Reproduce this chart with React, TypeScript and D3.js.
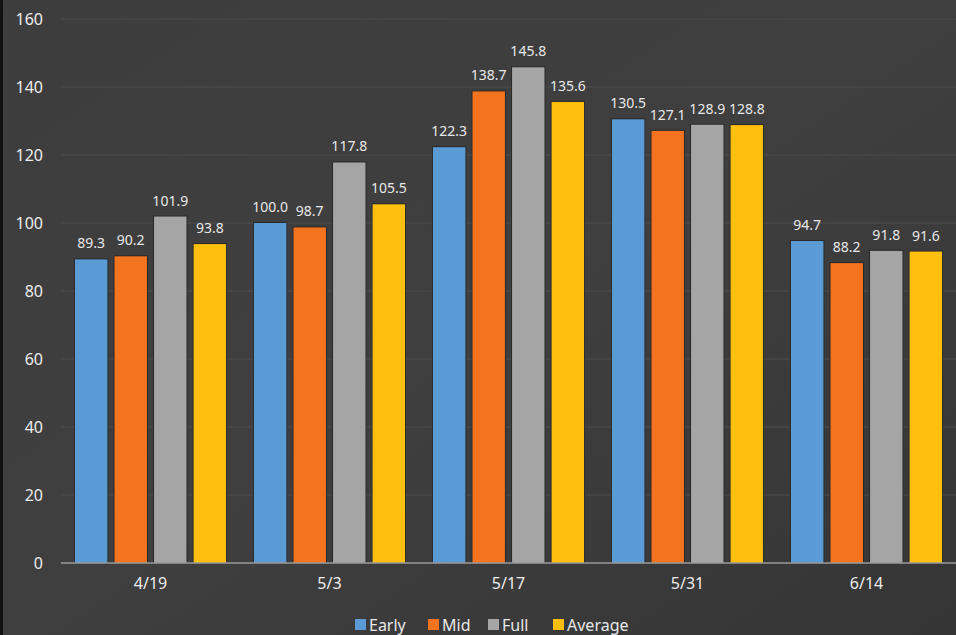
import React from "react";
import * as d3 from "d3";

const categories = ["4/19", "5/3", "5/17", "5/31", "6/14"];
const seriesNames = ["Early", "Mid", "Full", "Average"];
const early = [89.3, 100.0, 122.3, 130.5, 94.7];
const mid = [90.2, 98.7, 138.7, 127.1, 88.2];
const full = [101.9, 117.8, 145.8, 128.9, 91.8];
const average = [93.8, 105.5, 135.6, 128.8, 91.6];
const yTicks = [0, 20, 40, 60, 80, 100, 120, 140, 160];
const colors = ["#5b9bd5", "#f4731f", "#a5a5a5", "#ffbf0f"];

const W = 956;
const H = 635;
const FONT = "'Noto Sans', 'Open Sans', sans-serif";

export default function App() {
  const series = [early, mid, full, average];
  const y = d3.scaleLinear().domain([0, 160]).range([563, 19]);
  const x0 = d3
    .scaleBand<string>()
    .domain(categories)
    .range([61, 956])
    .paddingInner(0.134)
    .paddingOuter(0.067);
  const x1 = d3
    .scaleBand<string>()
    .domain(seriesNames)
    .range([0, x0.bandwidth()])
    .paddingInner(0.18)
    .paddingOuter(0.05);

  const legendX = [355, 428, 488, 553];

  return (
    <div style={{ position: "fixed", left: 0, top: 0, width: W, height: H }}>
      <svg width={W} height={H} style={{ display: "block" }}>
        <defs>
          <linearGradient id="bg" x1="0" y1="0" x2="1" y2="1">
            <stop offset="0" stopColor="#3e3d3d" />
            <stop offset="0.5" stopColor="#403f3f" />
            <stop offset="1" stopColor="#363535" />
          </linearGradient>
        </defs>
        <rect width={W} height={H} fill="url(#bg)" />
        <rect x={0} y={0} width={3} height={H} fill="#111" />
        {yTicks.map((t) => (
          <g key={t}>
            {t > 0 && (
              <line x1={61} x2={956} y1={y(t)} y2={y(t)} stroke="#4f4e4e" strokeWidth={1} />
            )}
            <text
              x={43}
              y={y(t)}
              dy="0.35em"
              textAnchor="end"
              fill="#ececec"
              fontSize={16}
              fontFamily={FONT}
            >
              {t}
            </text>
          </g>
        ))}
        {categories.map((c, ci) => (
          <g key={c} transform={`translate(${x0(c)},0)`}>
            {series.map((s, si) => {
              const v = s[ci];
              const bx = x1(seriesNames[si])!;
              const bw = x1.bandwidth();
              return (
                <g key={si}>
                  <rect
                    x={bx - 1}
                    y={y(v) - 1}
                    width={bw + 2}
                    height={y(0) - y(v) + 1}
                    fill="#2a2a2a"
                  />
                  <rect x={bx} y={y(v)} width={bw} height={y(0) - y(v)} fill={colors[si]} />
                  <text
                    x={bx + bw / 2}
                    y={y(v) - 11}
                    textAnchor="middle"
                    fill="#e8e8e8"
                    fontSize={14}
                    fontFamily={FONT}
                  >
                    {v.toFixed(1)}
                  </text>
                </g>
              );
            })}
            <text
              x={x0.bandwidth() / 2}
              y={589}
              textAnchor="middle"
              fill="#ececec"
              fontSize={16}
              fontFamily={FONT}
            >
              {c}
            </text>
          </g>
        ))}
        <line x1={61} x2={956} y1={y(0)} y2={y(0)} stroke="#9a9a9a" strokeWidth={1.5} />
        {seriesNames.map((n, i) => (
          <g key={n} transform={`translate(${legendX[i]},0)`}>
            <rect x={0} y={619} width={11} height={11} fill={colors[i]} />
            <text x={14} y={631} fill="#e8e8e8" fontSize={16} fontFamily={FONT}>
              {n}
            </text>
          </g>
        ))}
      </svg>
    </div>
  );
}
